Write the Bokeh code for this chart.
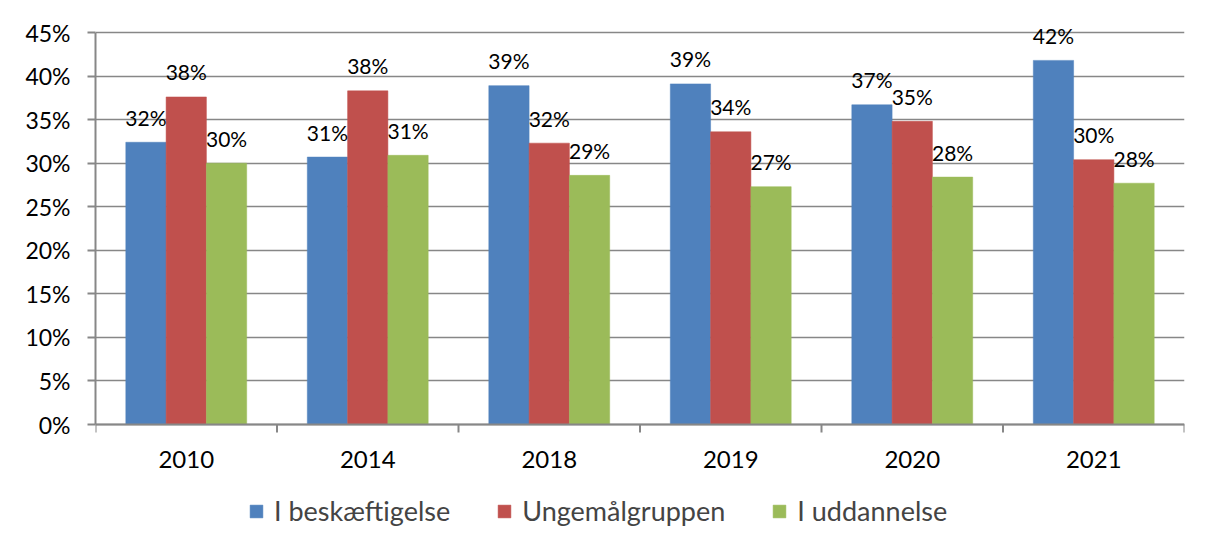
from bokeh.plotting import figure
from bokeh.models import (Range1d, FixedTicker, NumeralTickFormatter, Legend,
                          LegendItem, ColumnDataSource, Span)
from bokeh.transform import dodge
from bokeh.embed import file_html
from bokeh.resources import INLINE
from bokeh.core.properties import value

# ---- data ----
years = ["2010", "2014", "2018", "2019", "2020", "2021"]
series_names = ["I beskæftigelse", "Ungemålgruppen", "I uddannelse"]
i_beskaeftigelse = [0.324, 0.307, 0.389, 0.391, 0.367, 0.418]
ungemaalgruppen = [0.376, 0.383, 0.323, 0.336, 0.348, 0.304]
i_uddannelse = [0.300, 0.309, 0.286, 0.273, 0.284, 0.277]
y_ticks = [0, 0.05, 0.10, 0.15, 0.20, 0.25, 0.30, 0.35, 0.40, 0.45]

colors = ["#4F81BD", "#C0504D", "#9BBB59"]
AXIS_GRAY = "#878787"
FONT = "Lato"

n = len(years)
centers = [i + 0.5 for i in range(n)]
boundaries = list(range(n + 1))
src = ColumnDataSource(dict(
    x=centers, year=years,
    s0=i_beskaeftigelse, s1=ungemaalgruppen, s2=i_uddannelse,
    l0=[f"{round(v*100)}%" for v in i_beskaeftigelse],
    l1=[f"{round(v*100)}%" for v in ungemaalgruppen],
    l2=[f"{round(v*100)}%" for v in i_uddannelse],
))

# layout (pixels)
TOP = 6            # canvas top -> frame top
ZERO_Y = 424       # canvas y of the 0% line
TOPVAL_Y = 32      # canvas y of the 45% line
FRAME_BOTTOM = 537
PX = (ZERO_Y - TOPVAL_Y) / 0.45
y_top = 0.45 + (TOPVAL_Y - TOP) / PX
y_bot = -(FRAME_BOTTOM - ZERO_Y) / PX
TICK_LEN = 8 / PX

p = figure(frame_width=1089, frame_height=FRAME_BOTTOM - TOP, output_backend="svg",
           toolbar_location=None, x_axis_location=None,
           x_range=Range1d(0, n), y_range=Range1d(y_bot, y_top),
           min_border_left=95, min_border_right=18, min_border_top=TOP,
           min_border_bottom=0)
p.outline_line_color = None
p.background_fill_color = "white"
p.border_fill_color = "white"

bw = 0.222
offsets = [-bw, 0, bw]
renderers = []
for k in range(3):
    r = p.vbar(x=dodge("x", offsets[k], range=p.x_range), top=f"s{k}", bottom=0, width=bw,
               source=src, fill_color=colors[k], line_color=colors[k], line_width=0.5)
    renderers.append(r)

for k in range(3):
    p.text(x=dodge("x", offsets[k], range=p.x_range), y=f"s{k}", text=f"l{k}",
           source=src, text_align="center", text_baseline="middle", y_offset=-25,
           text_font=value(FONT), text_font_size="21px", text_color="black")

# y axis
p.yaxis.ticker = FixedTicker(ticks=y_ticks)
p.yaxis.formatter = NumeralTickFormatter(format="0%")
p.yaxis.bounds = (0, 0.45)
ax = p.yaxis[0]
ax.axis_line_color = AXIS_GRAY
ax.axis_line_width = 2
ax.major_label_text_font = FONT
ax.major_label_text_color = "black"
ax.major_label_text_font_size = "23px"
ax.major_tick_line_color = AXIS_GRAY
ax.major_tick_line_width = 2
ax.major_tick_out = 8
ax.major_tick_in = 0
ax.minor_tick_line_color = None
ax.major_label_standoff = 17

p.xgrid.visible = False
p.ygrid.ticker = FixedTicker(ticks=y_ticks)
p.ygrid.grid_line_color = AXIS_GRAY
p.ygrid.grid_line_width = 1.5

# category axis at 0%: line, boundary ticks and year labels
p.add_layout(Span(location=0, dimension="width", line_color=AXIS_GRAY, line_width=2))
p.segment(x0=boundaries, y0=[0] * len(boundaries), x1=boundaries,
          y1=[-TICK_LEN] * len(boundaries), line_color=AXIS_GRAY, line_width=2)
p.text(x="x", y=0, text="year", source=src, text_align="center", text_baseline="middle",
       y_offset=35, text_font=value(FONT), text_font_size="24px", text_color="black")

legend = Legend(items=[LegendItem(label=nm, renderers=[r]) for nm, r in zip(series_names, renderers)],
                orientation="horizontal", location=(153, 10))
legend.label_text_font = FONT
legend.label_text_font_size = "27px"
legend.glyph_width = 16
legend.glyph_height = 16
legend.label_standoff = 10
legend.spacing = 46
legend.border_line_color = None
legend.background_fill_alpha = 0
legend.margin = 0
legend.padding = 4
p.add_layout(legend)

open("out.html", "w").write(file_html(p, INLINE))
